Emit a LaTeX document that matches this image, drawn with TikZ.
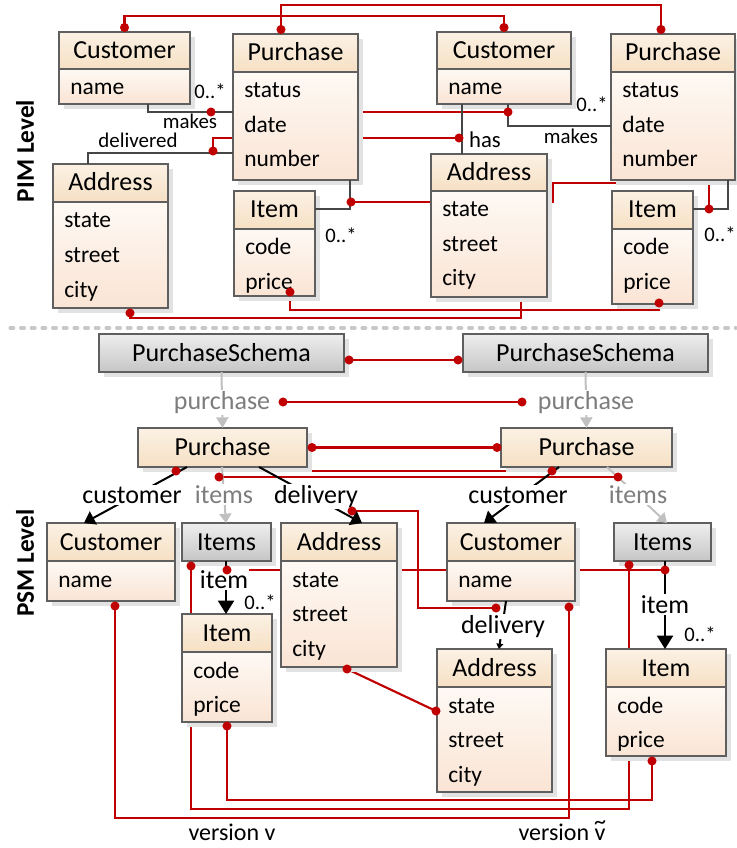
\documentclass[tikz,border=0pt]{standalone}
\usepackage{fontspec}
\setmainfont{Carlito}
\usetikzlibrary{arrows.meta,calc}
\pgfdeclarelayer{bg}
\pgfsetlayers{bg,main}

\definecolor{redln}{RGB}{192,0,0}
\definecolor{asgray}{RGB}{70,70,70}
\definecolor{lblgray}{RGB}{125,125,125}
\definecolor{arrgray}{RGB}{192,192,192}
\definecolor{hdtop}{RGB}{251,241,228}
\definecolor{hdbot}{RGB}{246,224,196}
\definecolor{bdtop}{RGB}{254,249,244}
\definecolor{bdbot}{RGB}{250,228,212}
\definecolor{gytop}{RGB}{238,238,238}
\definecolor{gybot}{RGB}{198,198,198}
\definecolor{edge}{RGB}{95,95,95}
\definecolor{boxshadow}{RGB}{226,226,226}
\definecolor{sepgray}{RGB}{200,200,200}

\tikzset{
  boxframe/.style={draw=edge,line width=0.9pt,inner sep=0pt,outer sep=0pt,anchor=north west},
  boxline/.style={draw=edge,line width=0.9pt},
  ttl/.style={inner sep=0pt,anchor=base,font=\fontsize{19.5}{22}\selectfont},
  att/.style={inner sep=0pt,anchor=base west,font=\fontsize{17.6}{20}\selectfont},
  pimlbl/.style={inner sep=0pt,anchor=base,font=\fontsize{15.7}{18}\selectfont},
  psmlbl/.style={inner sep=1pt,anchor=base,fill=white,font=\fontsize{19.5}{22}\selectfont},
  mult/.style={inner sep=0pt,anchor=base,font=\fontsize{15.5}{18}\selectfont},
  level/.style={inner sep=0pt,rotate=90,font=\bfseries\fontsize{19}{22}\selectfont},
  rl/.style={draw=redln,line width=1.6pt},
  as/.style={draw=asgray,line width=1.6pt},
  ps/.style={draw=black,line width=1.5pt},
  gl/.style={draw=arrgray,line width=1.5pt},
  sepline/.style={draw=sepgray,line width=2.4pt,line cap=round,dash pattern=on 2.8pt off 5.2pt},
}

% class box with a header and an attribute compartment
% #1 name, #2 x1, #3 y1, #4 x2, #5 y2, #6 divider y, #7 title, #8 attributes
\newcommand\classbox[8]{%
  \fill[boxshadow] ({#2+5},{#3+5}) rectangle ({#4+5},{#5+5});
  \shade[top color=hdtop,bottom color=hdbot] (#2,#3) rectangle (#4,#6);
  \shade[top color=bdtop,bottom color=bdbot] (#2,#6) rectangle (#4,#5);
  \node[boxframe,minimum width={(#4-#2)*0.75pt},minimum height={(#5-#3)*0.75pt}] (#1) at (#2,#3) {};
  \draw[boxline] (#2,#6) -- (#4,#6);
  \node[ttl] (#1-t) at ({(#2+#4)/2},{(#3+#6)/2+8}) {#7};
  \foreach \a [count=\i] in {#8} {\node[att] (#1-\i) at ({#2+11},{#6+26+34.5*(\i-1)}) {\a};}%
}
% single compartment box: #1 name, #2..#5 corners, #6 top colour, #7 bottom colour, #8 title
\newcommand\onebox[8]{%
  \fill[boxshadow] ({#2+5},{#3+5}) rectangle ({#4+5},{#5+5});
  \shade[top color=#6,bottom color=#7] (#2,#3) rectangle (#4,#5);
  \node[boxframe,minimum width={(#4-#2)*0.75pt},minimum height={(#5-#3)*0.75pt}] (#1) at (#2,#3) {};
  \node[ttl] (#1-t) at ({(#2+#4)/2},{(#3+#5)/2+8}) {#8};
}
\newcommand\rdot[1]{\fill[redln] (#1) circle[radius=3.4pt];}
% v with a tilde set above it
\newcommand\tildev{\leavevmode\hbox{\ooalign{v\cr\hidewidth\raisebox{0.95ex}{\char"7E}\hidewidth\cr}}}

\begin{document}
\begin{tikzpicture}[x=0.75pt,y=-0.75pt]
\useasboundingbox (0,0) rectangle (736,848);

% ---------------- PIM level ----------------
\node[level] (pimlevel) at (25,151) {PIM Level};
\classbox{cu1}{59}{32}{190}{104}{69}{Customer}{name}
\classbox{pu1}{233}{34}{358}{180}{72}{Purchase}{status,date,number}
\classbox{ad1}{53}{164}{168}{308}{202}{Address}{state,street,city}
\classbox{it1}{234}{191}{315}{296}{229}{Item}{code,price}
\classbox{cu2}{437}{32}{571}{104}{69}{Customer}{name}
\classbox{pu2}{611}{34}{735}{180}{72}{Purchase}{status,date,number}
\classbox{ad2}{431}{154}{547}{297}{191}{Address}{state,street,city}
\classbox{it2}{612}{191}{693}{304}{229}{Item}{code,price}

% associations
\draw[as] (cu1.south -| 148,0) |- (pu1.west |- 0,112);
\draw[as] (ad1.north -| 88,0) |- (pu1.west |- 0,153);
\draw[as] (pu1.south -| 350,0) |- (it1.east |- 0,209);
\draw[as] (cu2.south -| 462,0) -- (ad2.north -| 462,0);
\draw[as] (cu2.south -| 508,0) |- (pu2.west |- 0,126);
\draw[as] (pu2.south -| 728,0) |- (it2.east |- 0,209);

\node[mult] (m1) at (210,99) {0..*};
\node[pimlbl] (makes1) at (190,129) {makes};
\node[pimlbl] (deliv1) at (138,148) {delivered};
\node[mult] (m2) at (341,243) {0..*};
\node[pimlbl,font=\fontsize{17}{20}\selectfont] (has) at (485,148) {has};
\node[mult] (m3) at (592,112) {0..*};
\node[pimlbl] (makes2) at (571,144) {makes};
\node[mult] (m4) at (720,242) {0..*};

% separator
\draw[sepline] (10,328) -- (736,328);

% ---------------- PSM level ----------------
\node[level] (psmlevel) at (25,563) {PSM Level};
\onebox{ps1}{99}{334}{344}{372}{gytop}{gybot}{PurchaseSchema}
\onebox{ps2}{463}{334}{708}{372}{gytop}{gybot}{PurchaseSchema}
\onebox{pp1}{138}{428}{307}{467}{hdtop}{hdbot}{Purchase}
\onebox{pp2}{501}{428}{672}{467}{hdtop}{hdbot}{Purchase}
\classbox{cc1}{47}{523}{175}{601}{561}{Customer}{name}
\onebox{is1}{182}{523}{271}{561}{gytop}{gybot}{Items}
\classbox{aa1}{281}{523}{397}{667}{561}{Address}{state,street,city}
\classbox{cc2}{447}{523}{575}{601}{561}{Customer}{name}
\onebox{is2}{614}{523}{711}{561}{gytop}{gybot}{Items}
\classbox{ii1}{182}{614}{272}{722}{652}{Item}{code,price}
\classbox{aa2}{437}{649}{552}{792}{687}{Address}{state,street,city}
\classbox{ii2}{606}{649}{726}{756}{687}{Item}{code,price}

% PSM associations
\draw[gl,-{Triangle[length=8pt,width=9pt]}] (ps1.south) -- (pp1.north);
\draw[gl,-{Triangle[length=8pt,width=9pt]}] (ps2.south) -- (pp2.north);
\node[psmlbl,text=lblgray] (pur1) at (222,409) {purchase};
\node[psmlbl,text=lblgray] (pur2) at (586,409) {purchase};

\draw[ps,-{Triangle[length=8pt,width=11pt]}] (pp1.south -| 187,0) -- (cc1.north -| 84,0);
\draw[gl,-{Triangle[length=7pt,width=9pt]}] (pp1.south -| 222,0) -- (is1.north -| 226,0);
\draw[ps,-{Triangle[length=8pt,width=12pt]}] (pp1.south -| 259,0) -- (aa1.north -| 362,0);
\node[psmlbl] (cus1) at (132,503) {customer};
\node[psmlbl,text=lblgray] (its1) at (224,503) {items};
\node[psmlbl] (del1) at (316,503) {delivery};

\draw[ps,-{Triangle[length=8pt,width=11pt]}] (pp2.south -| 559,0) -- (cc2.north -| 484,0);
\draw[gl,-{Triangle[length=7pt,width=9pt]}] (pp2.south -| 607,0) -- (is2.north -| 667,0);
\node[psmlbl] (cus2) at (518,503) {customer};
\node[psmlbl,text=lblgray] (its2) at (638,503) {items};

\draw[ps,-{Triangle[length=10pt,width=12pt]}] (is1.south -| 226,0) -- (ii1.north -| 226,0);
\node[psmlbl] (item1) at (224,588) {item};
\node[mult] (m5) at (260,609) {0..*};
\draw[ps,-{Triangle[length=10pt,width=12pt]}] (is2.south -| 665,0) -- (ii2.north -| 665,0);
\node[psmlbl] (item2) at (665,613) {item};
\node[mult] (m6) at (700,641) {0..*};
\draw[ps,-{Triangle[length=4pt,width=5pt]}] (cc2.south -| 506,0) -- (aa2.north -| 499,0);
\node[psmlbl] (del2) at (503,633) {delivery};

\node[inner sep=0pt,anchor=base,font=\fontsize{18}{21}\selectfont] (ver1) at (232,840) {version v};
\node[inner sep=0pt,anchor=base,font=\fontsize{18}{21}\selectfont] (ver2) at (562,840) {version \tildev};

% ---------------- correspondence points ----------------
\coordinate (c1top) at ($(cu1.north)+(0,-4.5)$);
\coordinate (c2top) at ($(cu2.north)+(0,-4.5)$);
\coordinate (p1top) at ($(pu1.north)+(-14.5,-4.5)$);
\coordinate (p2top) at ($(pu2.north)+(-12,-4.5)$);
\coordinate (mk1) at (211,112);
\coordinate (mk2) at (508,112);
\coordinate (dl1) at (213,151);
\coordinate (hs) at (459,138);
\coordinate (cp1) at (351,202);
\coordinate (cp2) at (709,209);
\coordinate (i1p) at ($(it1.south -| 290,0)+(0,-4)$);
\coordinate (i2p) at ($(it2.south -| 659,0)+(0,-1)$);
\coordinate (a1b) at ($(ad1.south -| 130,0)+(0,5)$);
\coordinate (a2b) at (ad2.south -| 521,0);

\coordinate (s1r) at ($(ps1.east |- 0,360)+(5,0)$);
\coordinate (s2l) at ($(ps2.west |- 0,360)+(-5,0)$);
\coordinate (pl1) at (283,402);
\coordinate (pl2) at (522,402);
\coordinate (pp1r) at ($(pp1.east)+(5,0)$);
\coordinate (pp2l) at ($(pp2.west)+(-4,0)$);
\coordinate (cua1) at (176,471);
\coordinate (cua2) at (552,471);
\coordinate (ita1) at (219,477);
\coordinate (ita2) at (618,477);
\coordinate (dv1) at (352,511);
\coordinate (dv2) at (496,608);
\coordinate (im1) at (227,570);
\coordinate (im2) at (665,570);
\coordinate (is1b) at ($(is1.south -| 191,0)+(0,5)$);
\coordinate (is2b) at ($(is2.south -| 629,0)+(0,4)$);
\coordinate (cc1b) at ($(cc1.south -| 115,0)+(0,5)$);
\coordinate (cc2b) at ($(cc2.south -| 569,0)+(0,6)$);
\coordinate (ii1b) at ($(ii1.south -| 227,0)+(0,4)$);
\coordinate (ii2b) at ($(ii2.south -| 652,0)+(0,5)$);
\coordinate (aa1b) at ($(aa1.south -| 347,0)+(0,2)$);
\coordinate (aa2l) at ($(aa2.west |- 0,711)+(-1,0)$);

% correspondence lines run behind the boxes
\begin{pgfonlayer}{bg}
\draw[rl] (c1top) -- (c1top |- 0,16) -| (c2top);
\draw[rl] (p1top) -- (p1top |- 0,5) -| (p2top);
\draw[rl] (mk1) -- (mk2);
\draw[rl] (dl1) |- (hs);
\draw[rl] (cp1) -| (553,183) -| (cp2);
\draw[rl] (i1p) -- (i1p |- 0,310) -| (i2p);
\draw[rl] (a1b) -- (a1b |- 0,318) -| (a2b);

\draw[rl] (s1r) -- (s2l);
\draw[rl] (pl1) -- (pl2);
\draw[rl] (pp1r) -- (pp2l);
\draw[rl] (cua1) -- (cua2);
\draw[rl] (ita1) -- (ita2);
\draw[rl] (dv1) -| (418,608) -- (dv2);
\draw[rl] (im1) -- (im2);
\draw[rl] (is1b) -- (is1b |- 0,809) -| (is2b);
\draw[rl] (cc1b) -- (cc1b |- 0,818) -| (cc2b);
\draw[rl] (ii1b) -- (ii1b |- 0,800) -| (ii2b);
\draw[rl] (aa1b) -- (aa2l);
\end{pgfonlayer}

\foreach \p in {c1top,c2top,p1top,p2top,mk1,mk2,dl1,hs,cp1,cp2,i1p,i2p,a1b,
  s1r,s2l,pl1,pl2,pp1r,pp2l,cua1,cua2,ita1,ita2,dv1,dv2,im1,im2,is1b,is2b,cc1b,cc2b,ii1b,ii2b,aa1b,aa2l}
  {\rdot{\p}}
\end{tikzpicture}
\end{document}
